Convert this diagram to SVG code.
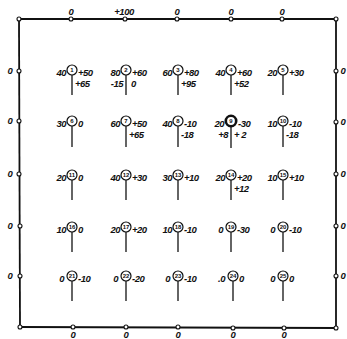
<svg xmlns="http://www.w3.org/2000/svg" width="347" height="339" viewBox="0 0 347 339">
<style>
.f{fill:none;stroke:#111;stroke-width:1.8}
.b{fill:#fff;stroke:#111;stroke-width:1.1}
.c{fill:#fff;stroke:#111;stroke-width:1.2}
.c9{fill:#fff;stroke:#111;stroke-width:2.6}
.s{stroke:#111;stroke-width:1.3}
text{font-family:"Liberation Sans",Arial,sans-serif;fill:#111}
.lb{font-size:9.5px;font-style:italic;font-weight:bold;letter-spacing:-0.5px}
.e{text-anchor:end}
.m{text-anchor:middle}
.num{font-size:6px;font-weight:bold;text-anchor:middle}
</style>
<rect width="347" height="339" fill="#fff"/>
<g id="connectors">
<line class="f" x1="19" y1="19" x2="336" y2="19"/>
<line class="f" x1="19" y1="19" x2="20" y2="327"/>
<line class="f" x1="336" y1="19" x2="336" y2="328"/>
<line class="f" x1="20" y1="327" x2="336" y2="328"/>
</g>
<g id="boundary">
<g id="c-tl"><circle class="b" cx="19" cy="19" r="2"/></g>
<g id="c-tr"><circle class="b" cx="336" cy="19" r="2"/></g>
<g id="c-bl"><circle class="b" cx="20" cy="327" r="2"/></g>
<g id="c-br"><circle class="b" cx="336" cy="328" r="2"/></g>
<g id="t1"><circle class="b" cx="71" cy="19" r="2"/><text class="lb m" x="71" y="15">0</text></g>
<g id="t2"><circle class="b" cx="125" cy="19" r="2"/><text class="lb m" x="124" y="15">+100</text></g>
<g id="t3"><circle class="b" cx="177" cy="19" r="2"/><text class="lb m" x="177" y="15">0</text></g>
<g id="t4"><circle class="b" cx="231" cy="19" r="2"/><text class="lb m" x="231" y="15">0</text></g>
<g id="t5"><circle class="b" cx="282" cy="19" r="2"/><text class="lb m" x="282" y="15">0</text></g>
<g id="l1"><circle class="b" cx="19" cy="71" r="2"/><text class="lb m" x="10" y="74">0</text></g>
<g id="l2"><circle class="b" cx="19" cy="121" r="2"/><text class="lb m" x="10" y="124">0</text></g>
<g id="l3"><circle class="b" cx="19" cy="174" r="2"/><text class="lb m" x="10" y="177">0</text></g>
<g id="l4"><circle class="b" cx="20" cy="226" r="2"/><text class="lb m" x="10" y="229">0</text></g>
<g id="l5"><circle class="b" cx="20" cy="276" r="2"/><text class="lb m" x="10" y="279">0</text></g>
<g id="r1"><circle class="b" cx="336" cy="71" r="2"/><text class="lb m" x="343" y="74">0</text></g>
<g id="r2"><circle class="b" cx="336" cy="122" r="2"/><text class="lb m" x="343" y="125">0</text></g>
<g id="r3"><circle class="b" cx="336" cy="174" r="2"/><text class="lb m" x="343" y="177">0</text></g>
<g id="r4"><circle class="b" cx="336" cy="226" r="2"/><text class="lb m" x="343" y="229">0</text></g>
<g id="r5"><circle class="b" cx="336" cy="276" r="2"/><text class="lb m" x="343" y="279">0</text></g>
<g id="b1"><circle class="b" cx="73" cy="327" r="2"/><text class="lb m" x="73" y="338">0</text></g>
<g id="b2"><circle class="b" cx="126" cy="327" r="2"/><text class="lb m" x="126" y="338">0</text></g>
<g id="b3"><circle class="b" cx="178" cy="327" r="2"/><text class="lb m" x="178" y="338">0</text></g>
<g id="b4"><circle class="b" cx="233" cy="328" r="2"/><text class="lb m" x="233" y="338">0</text></g>
<g id="b5"><circle class="b" cx="284" cy="328" r="2"/><text class="lb m" x="284" y="338">0</text></g>
</g>
<g id="n1"><line class="s" x1="72" y1="75" x2="72" y2="95"/><circle class="c" cx="72" cy="70" r="5"/><text class="num" x="72" y="72.2">1</text><text class="lb e" x="66" y="75.5">40</text><text class="lb" x="78" y="75.5">+50</text><text class="lb" x="75" y="86.5">+65</text></g>
<g id="n2"><line class="s" x1="126" y1="75" x2="126" y2="95"/><circle class="c" cx="126" cy="70" r="5"/><text class="num" x="126" y="72.2">2</text><text class="lb e" x="120" y="75.5">80</text><text class="lb" x="132" y="75.5">+60</text><text class="lb e" x="123" y="86.5">-15</text><text class="lb" x="131" y="86.5">0</text></g>
<g id="n3"><line class="s" x1="178" y1="75" x2="178" y2="95"/><circle class="c" cx="178" cy="70" r="5"/><text class="num" x="178" y="72.2">3</text><text class="lb e" x="172" y="75.5">60</text><text class="lb" x="184" y="75.5">+80</text><text class="lb" x="181" y="86.5">+95</text></g>
<g id="n4"><line class="s" x1="231" y1="75" x2="231" y2="95"/><circle class="c" cx="231" cy="70" r="5"/><text class="num" x="231" y="72.2">4</text><text class="lb e" x="225" y="75.5">40</text><text class="lb" x="237" y="75.5">+60</text><text class="lb" x="234" y="86.5">+52</text></g>
<g id="n5"><line class="s" x1="283" y1="75" x2="283" y2="95"/><circle class="c" cx="283" cy="70" r="5"/><text class="num" x="283" y="72.2">5</text><text class="lb e" x="277" y="75.5">20</text><text class="lb" x="289" y="75.5">+30</text></g>
<g id="n6"><line class="s" x1="72" y1="126" x2="72" y2="147"/><circle class="c" cx="72" cy="121" r="5"/><text class="num" x="72" y="123.2">6</text><text class="lb e" x="66" y="126.5">30</text><text class="lb" x="78" y="126.5">0</text></g>
<g id="n7"><line class="s" x1="126" y1="126" x2="126" y2="147"/><circle class="c" cx="126" cy="121" r="5"/><text class="num" x="126" y="123.2">7</text><text class="lb e" x="120" y="126.5">60</text><text class="lb" x="132" y="126.5">+50</text><text class="lb" x="129" y="137.5">+65</text></g>
<g id="n8"><line class="s" x1="178" y1="126" x2="178" y2="147"/><circle class="c" cx="178" cy="121" r="5"/><text class="num" x="178" y="123.2">8</text><text class="lb e" x="172" y="126.5">40</text><text class="lb" x="184" y="126.5">-10</text><text class="lb" x="181" y="137.5">-18</text></g>
<g id="n9"><line class="s" x1="231" y1="126" x2="231" y2="148" stroke-width="2"/><circle class="c9" cx="231" cy="121" r="5.2"/><text class="num" x="231" y="123.2">9</text><text class="lb e" x="224" y="126.5">20</text><text class="lb" x="238" y="126.5">-30</text><text class="lb e" x="228" y="137.5">+8</text><text class="lb" x="234" y="137.5">+ 2</text></g>
<g id="n10"><line class="s" x1="283" y1="126" x2="283" y2="147"/><circle class="c" cx="283" cy="121" r="5"/><text class="num" x="283" y="123.2">10</text><text class="lb e" x="277" y="126.5">10</text><text class="lb" x="289" y="126.5">-10</text><text class="lb" x="286" y="137.5">-18</text></g>
<g id="n11"><line class="s" x1="72" y1="180" x2="72" y2="200"/><circle class="c" cx="72" cy="175" r="5"/><text class="num" x="72" y="177.2">11</text><text class="lb e" x="66" y="180.5">20</text><text class="lb" x="78" y="180.5">0</text></g>
<g id="n12"><line class="s" x1="126" y1="180" x2="126" y2="200"/><circle class="c" cx="126" cy="175" r="5"/><text class="num" x="126" y="177.2">12</text><text class="lb e" x="120" y="180.5">40</text><text class="lb" x="132" y="180.5">+30</text></g>
<g id="n13"><line class="s" x1="178" y1="180" x2="178" y2="200"/><circle class="c" cx="178" cy="175" r="5"/><text class="num" x="178" y="177.2">13</text><text class="lb e" x="172" y="180.5">30</text><text class="lb" x="184" y="180.5">+10</text></g>
<g id="n14"><line class="s" x1="231" y1="180" x2="231" y2="200"/><circle class="c" cx="231" cy="175" r="5"/><text class="num" x="231" y="177.2">14</text><text class="lb e" x="225" y="180.5">20</text><text class="lb" x="237" y="180.5">+20</text><text class="lb" x="234" y="191.5">+12</text></g>
<g id="n15"><line class="s" x1="283" y1="180" x2="283" y2="200"/><circle class="c" cx="283" cy="175" r="5"/><text class="num" x="283" y="177.2">15</text><text class="lb e" x="277" y="180.5">10</text><text class="lb" x="289" y="180.5">+10</text></g>
<g id="n16"><line class="s" x1="72" y1="232" x2="72" y2="252"/><circle class="c" cx="72" cy="227" r="5"/><text class="num" x="72" y="229.2">16</text><text class="lb e" x="66" y="232.5">10</text><text class="lb" x="78" y="232.5">0</text></g>
<g id="n17"><line class="s" x1="126" y1="232" x2="126" y2="252"/><circle class="c" cx="126" cy="227" r="5"/><text class="num" x="126" y="229.2">17</text><text class="lb e" x="120" y="232.5">20</text><text class="lb" x="132" y="232.5">+20</text></g>
<g id="n18"><line class="s" x1="178" y1="232" x2="178" y2="252"/><circle class="c" cx="178" cy="227" r="5"/><text class="num" x="178" y="229.2">18</text><text class="lb e" x="172" y="232.5">10</text><text class="lb" x="184" y="232.5">-10</text></g>
<g id="n19"><line class="s" x1="231" y1="232" x2="231" y2="252"/><circle class="c" cx="231" cy="227" r="5"/><text class="num" x="231" y="229.2">19</text><text class="lb e" x="223" y="232.5">0</text><text class="lb" x="237" y="232.5">-30</text></g>
<g id="n20"><line class="s" x1="283" y1="232" x2="283" y2="252"/><circle class="c" cx="283" cy="227" r="5"/><text class="num" x="283" y="229.2">20</text><text class="lb e" x="275" y="232.5">0</text><text class="lb" x="289" y="232.5">-10</text></g>
<g id="n21"><line class="s" x1="72" y1="281" x2="72" y2="301"/><circle class="c" cx="72" cy="276" r="5"/><text class="num" x="72" y="278.2">21</text><text class="lb e" x="64" y="281.5">0</text><text class="lb" x="78" y="281.5">-10</text></g>
<g id="n22"><line class="s" x1="126" y1="281" x2="126" y2="301"/><circle class="c" cx="126" cy="276" r="5"/><text class="num" x="126" y="278.2">22</text><text class="lb e" x="118" y="281.5">0</text><text class="lb" x="132" y="281.5">-20</text></g>
<g id="n23"><line class="s" x1="178" y1="281" x2="178" y2="301"/><circle class="c" cx="178" cy="276" r="5"/><text class="num" x="178" y="278.2">23</text><text class="lb e" x="170" y="281.5">0</text><text class="lb" x="184" y="281.5">-10</text></g>
<g id="n24"><line class="s" x1="233" y1="281" x2="233" y2="301"/><circle class="c" cx="233" cy="276" r="5"/><text class="num" x="233" y="278.2">24</text><text class="lb e" x="225" y="281.5">.0</text><text class="lb" x="239" y="281.5">0</text></g>
<g id="n25"><line class="s" x1="283" y1="281" x2="283" y2="301"/><circle class="c" cx="283" cy="276" r="5"/><text class="num" x="283" y="278.2">25</text><text class="lb e" x="275" y="281.5">0</text><text class="lb" x="289" y="281.5">0</text></g>
</svg>
